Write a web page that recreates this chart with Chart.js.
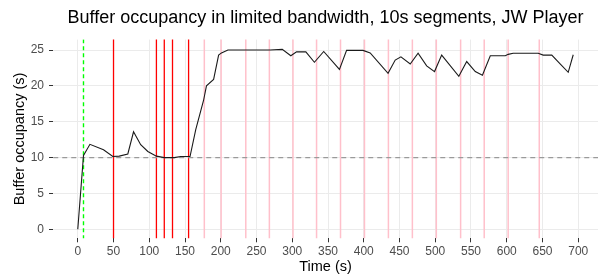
<!DOCTYPE html>
<html>
<head>
<meta charset="utf-8">
<script src="https://cdn.jsdelivr.net/npm/chart.js@4/dist/chart.umd.min.js"></script>
<style>
  html, body { margin: 0; padding: 0; background: #ffffff; }
  #wrap { width: 604px; height: 276px; }
</style>
</head>
<body>
<div id="wrap"><canvas id="c" width="604" height="276"></canvas></div>
<script>
// ---- data ----
const chartTitle = "Buffer occupancy in limited bandwidth, 10s segments, JW Player";
const xTitle = "Time (s)";
const yTitle = "Buffer occupancy (s)";

const bufferTimes = [0, 8, 17, 36, 49, 58, 70, 78, 88, 98, 110, 121, 135, 144, 157, 165, 176, 180, 190, 197, 201, 210, 269, 286, 298, 306, 319, 331, 344, 366, 376, 399, 409, 434, 444, 452, 465, 476, 488, 499, 509, 533, 544, 556, 566, 577, 598, 602, 609, 644, 651, 663, 675, 686, 693];
const bufferValues = [0, 10.3, 11.85, 11.1, 10.15, 10.2, 10.5, 13.6, 11.8, 10.85, 10.2, 10.0, 10.0, 10.15, 10.15, 13.9, 18.0, 20.0, 20.9, 24.3, 24.6, 25.0, 25.0, 25.1, 24.2, 24.75, 24.75, 23.3, 24.8, 22.3, 24.95, 24.95, 24.6, 21.75, 23.6, 24.05, 23.05, 24.55, 22.8, 22.0, 24.3, 21.35, 23.4, 22.0, 21.5, 24.2, 24.2, 24.4, 24.55, 24.55, 24.3, 24.3, 23.05, 21.9, 24.35];

const redTimes = [50, 110, 121, 132.5, 155];
const pinkTimes = [177, 200.5, 235, 268, 301, 334, 367.5, 401, 434.5, 468, 501.5, 535.5, 568.5, 602, 645.5];
const greenTime = 8;
const thresholdValue = 10;

const xTicks = [0, 50, 100, 150, 200, 250, 300, 350, 400, 450, 500, 550, 600, 650, 700];
const yTicks = [0, 5, 10, 15, 20, 25];

// ---- chart ----
const FONT = "'Liberation Sans', Arial, sans-serif";
const xMin = -34.65, xMax = 727.65;
const yMin = -1.26, yMax = 26.46;

function vline(t, color, width, dash) {
  return {
    type: 'line',
    data: [{x: t, y: yMin - 5}, {x: t, y: yMax + 5}],
    borderColor: color,
    borderWidth: width,
    borderDash: dash || [],
    pointRadius: 0,
    fill: false,
    order: 5
  };
}

const datasets = [];
pinkTimes.forEach(t => datasets.push(vline(t, '#FFC0CB', 1.5)));
redTimes.forEach(t => datasets.push(vline(t, '#FF0000', 1.3)));
datasets.push(vline(greenTime, '#00FF00', 1.4, [4, 3]));
datasets.push({
  type: 'line',
  data: [{x: xMin - 50, y: thresholdValue}, {x: xMax + 50, y: thresholdValue}],
  borderColor: '#9a9a9a',
  borderWidth: 1.2,
  borderDash: [5, 4],
  pointRadius: 0,
  order: 2
});
datasets.push({
  type: 'line',
  data: bufferTimes.map((t, i) => ({x: t, y: bufferValues[i]})),
  borderColor: '#1a1a1a',
  borderWidth: 1.1,
  pointRadius: 0,
  tension: 0,
  order: 1
});

const titlePlugin = {
  id: 'mainTitle',
  afterDraw(chart) {
    const ctx = chart.ctx, a = chart.chartArea;
    ctx.save();
    ctx.font = "18px " + FONT;
    ctx.fillStyle = '#000000';
    ctx.textAlign = 'center';
    ctx.textBaseline = 'alphabetic';
    ctx.fillText(chartTitle, (a.left + a.right) / 2, 23);
    ctx.restore();
  }
};

new Chart(document.getElementById('c'), {
  type: 'line',
  data: { datasets },
  options: {
    responsive: false,
    animation: false,
    events: [],
    layout: { padding: { top: 39.6, right: 6, left: 0, bottom: 0 } },
    plugins: { legend: { display: false }, tooltip: { enabled: false }, title: { display: false } },
    scales: {
      x: {
        type: 'linear',
        min: xMin, max: xMax,
        afterBuildTicks: s => { s.ticks = xTicks.map(v => ({value: v})); },
        afterFit: s => { s.height = 37.7; },
        grid: { color: '#EBEBEB', lineWidth: 1, tickColor: '#333333', tickLength: 4, drawTicks: true },
        border: { display: false },
        ticks: { color: '#4D4D4D', font: { family: FONT, size: 12 }, padding: 2, maxRotation: 0, autoSkip: false },
        title: { display: true, text: xTitle, color: '#000000', font: { family: FONT, size: 14.5 }, padding: { top: 0, bottom: 0 } }
      },
      y: {
        type: 'linear',
        min: yMin, max: yMax,
        afterBuildTicks: s => { s.ticks = yTicks.map(v => ({value: v})); },
        afterFit: s => { s.width = 53; },
        grid: { color: '#EBEBEB', lineWidth: 1, tickColor: '#333333', tickLength: 4, drawTicks: true },
        border: { display: false },
        ticks: { color: '#4D4D4D', font: { family: FONT, size: 12 }, padding: 5 },
        title: { display: true, text: yTitle, color: '#000000', font: { family: FONT, size: 14.5 }, padding: { top: 11, bottom: 0 } }
      }
    }
  },
  plugins: [titlePlugin]
});
</script>
</body>
</html>
